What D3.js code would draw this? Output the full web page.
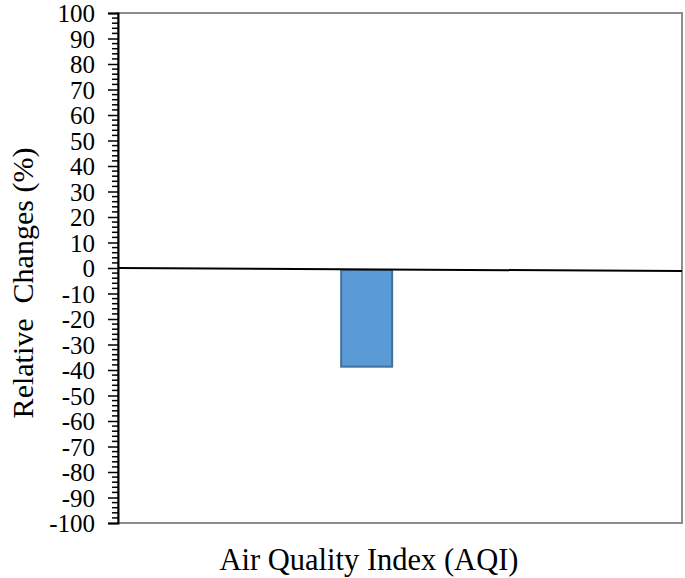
<!DOCTYPE html>
<html>
<head>
<meta charset="utf-8">
<script src="https://cdn.jsdelivr.net/npm/d3@7"></script>
<style>
  body { margin: 0; background: #fff; }
  text { font-family: "Liberation Serif", "Times New Roman", serif; fill: #000; }
</style>
</head>
<body>
<div id="chart"></div>
<script>
// data
var categories = ["AQI"];
var values = [-38.7];
var yTicks = d3.range(-100, 101, 10);
var yTitle = "Relative  Changes (%)";
var xTitle = "Air Quality Index (AQI)";

var width = 685, height = 578;
var margin = {top: 13, right: 3, bottom: 55, left: 118};
var w = width - margin.left - margin.right,
    h = height - margin.top - margin.bottom;

var svg = d3.select("#chart").append("svg")
    .attr("width", width)
    .attr("height", height);

var g = svg.append("g")
    .attr("transform", "translate(" + margin.left + "," + margin.top + ")");

var y = d3.scaleLinear().domain([-100, 100]).range([h, 0]);

// single category, sitting a bit left of centre like the original
var x = d3.scaleBand().domain(categories).range([0, w])
    .paddingInner(0).paddingOuter(5.03).align(0.435);

// grey frame (top, right, bottom)
g.append("rect")
    .attr("x", 0).attr("y", 0)
    .attr("width", w).attr("height", h)
    .attr("fill", "none")
    .attr("stroke", "#8c8c8c")
    .attr("stroke-width", 2);

// bars
g.selectAll("rect.bar").data(values).enter().append("rect")
    .attr("class", "bar")
    .attr("x", function(d, i) { return x(categories[i]); })
    .attr("y", function(d) { return y(Math.max(0, d)) + 2; })
    .attr("width", x.bandwidth())
    .attr("height", function(d) { return Math.abs(y(d) - y(0)) - 2; })
    .attr("fill", "#5b9bd5")
    .attr("stroke", "#41719c")
    .attr("stroke-width", 2);

// zero line (slightly tilted in the original)
g.append("line")
    .attr("x1", 0).attr("x2", w)
    .attr("y1", y(0)).attr("y2", y(-1.2))
    .attr("stroke", "#000")
    .attr("stroke-width", 2);

// y axis: major ticks every 10, minor every 2
var yAxis = g.append("g")
    .call(d3.axisLeft(y).tickValues(yTicks).tickSize(10).tickPadding(13)
        .tickFormat(function(d) { return String(d); }));
yAxis.select(".domain").attr("stroke", "#000").attr("stroke-width", 2);
yAxis.selectAll(".tick line").attr("stroke", "#000").attr("stroke-width", 1.5);
yAxis.selectAll(".tick text")
    .style("font-family", "'Liberation Serif', 'Times New Roman', serif")
    .style("font-size", "25px")
    .attr("dy", "0.35em");

var minor = d3.range(-100, 101, 2).filter(function(d) { return d % 10 !== 0; });
g.append("g").selectAll("line").data(minor).enter().append("line")
    .attr("x1", -6).attr("x2", 0)
    .attr("y1", function(d) { return y(d); })
    .attr("y2", function(d) { return y(d); })
    .attr("stroke", "#000")
    .attr("stroke-width", 1.5);

// titles
svg.append("text")
    .attr("transform", "translate(33,283) rotate(-90)")
    .attr("text-anchor", "middle")
    .style("font-size", "30px")
    .style("white-space", "pre")
    .text(yTitle);

svg.append("text")
    .attr("x", 369)
    .attr("y", 570)
    .attr("text-anchor", "middle")
    .style("font-size", "30.5px")
    .text(xTitle);
</script>
</body>
</html>
